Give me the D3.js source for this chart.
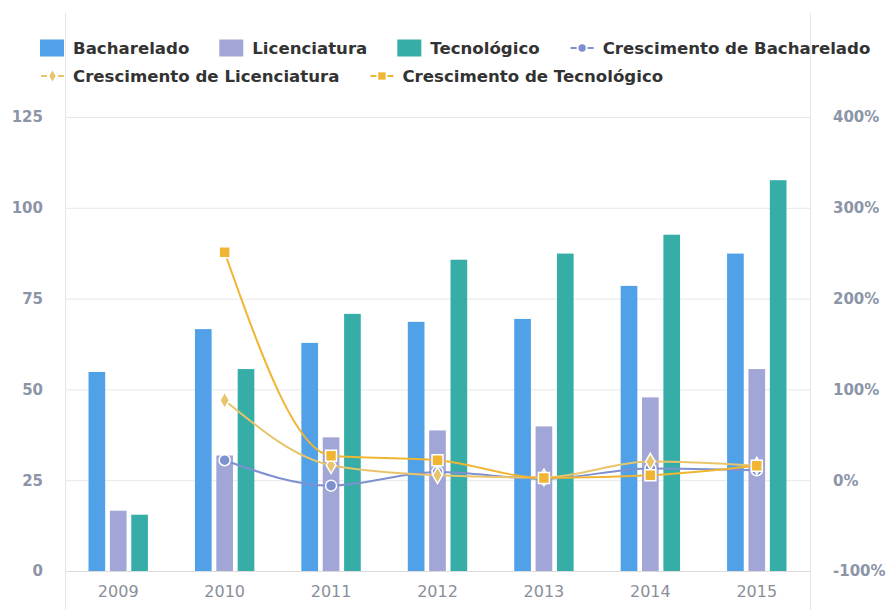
<!DOCTYPE html>
<html>
<head>
<meta charset="utf-8">
<script src="https://cdn.jsdelivr.net/npm/d3@7"></script>
<style>
  html, body { margin: 0; padding: 0; background: #fff; }
  svg { display: block; font-family: "DejaVu Sans", sans-serif; }
</style>
</head>
<body>
<svg id="chart" width="891" height="610"></svg>
<script>
const years = ["2009", "2010", "2011", "2012", "2013", "2014", "2015"];
const bacharelado = [54.8, 66.6, 62.8, 68.6, 69.4, 78.5, 87.4];
const licenciatura = [16.6, 31.8, 36.8, 38.7, 39.8, 47.8, 55.6];
const tecnologico = [15.5, 55.6, 70.8, 85.7, 87.4, 92.6, 107.6];
const crescBacharelado = [null, 22, -6, 9, 1.5, 13, 11];
const crescLicenciatura = [null, 88, 16.5, 5.5, 3, 20.5, 16];
const crescTecnologico = [null, 251, 27, 22, 2.5, 5.5, 16];
const leftTicks = [0, 25, 50, 75, 100, 125];
const rightTicks = [-100, 0, 100, 200, 300, 400];

const barSeries = [
  { name: "Bacharelado", values: bacharelado, color: "#51a1e8" },
  { name: "Licenciatura", values: licenciatura, color: "#a1a6d6" },
  { name: "Tecnológico", values: tecnologico, color: "#36aea7" }
];
const lineSeries = [
  { name: "Crescimento de Bacharelado", values: crescBacharelado, color: "#7d90cf", symbol: d3.symbolCircle, size: 95 },
  { name: "Crescimento de Licenciatura", values: crescLicenciatura, color: "#e8c56c", symbol: d3.symbolDiamond, size: 80 },
  { name: "Crescimento de Tecnológico", values: crescTecnologico, color: "#f0b633", symbol: d3.symbolSquare, size: 120 }
];

const svg = d3.select("#chart");
const L = 65, R = 810, B = 571, T = 117;

const x = d3.scaleBand().domain(years).range([L, R]);
const xi = d3.scaleBand().domain(barSeries.map(s => s.name)).range([-29.7, 29.7]).paddingInner(0.22);
const y = d3.scaleLinear().domain([0, 125]).range([B, T]);
const y2 = d3.scaleLinear().domain([-100, 400]).range([B, T]);

// grid
svg.append("g").selectAll("line").data(leftTicks.filter(t => t !== 0)).join("line")
  .attr("x1", L).attr("x2", R).attr("y1", d => y(d) + 0.5).attr("y2", d => y(d) + 0.5)
  .attr("stroke", "#e8e8e8").attr("stroke-width", 1);

// vertical frame lines
svg.append("line").attr("x1", L + 0.5).attr("x2", L + 0.5).attr("y1", 13).attr("y2", 610).attr("stroke", "#e6e6e6");
svg.append("line").attr("x1", R + 0.5).attr("x2", R + 0.5).attr("y1", 13).attr("y2", 610).attr("stroke", "#e6e6e6");

// bars
barSeries.forEach(s => {
  svg.append("g").selectAll("rect").data(s.values).join("rect")
    .attr("x", (d, i) => x(years[i]) + x.bandwidth() / 2 + xi(s.name))
    .attr("width", xi.bandwidth())
    .attr("y", d => y(d))
    .attr("height", d => y(0) - y(d))
    .attr("fill", s.color);
});

// x axis line
svg.append("line").attr("x1", L).attr("x2", R).attr("y1", B + 0.5).attr("y2", B + 0.5).attr("stroke", "#dcdcdc");

// axes
const xAxis = svg.append("g").attr("transform", `translate(0,${B})`)
  .call(d3.axisBottom(x).tickSize(0).tickPadding(15));
xAxis.select(".domain").remove();
xAxis.selectAll("text").attr("font-size", 16).attr("fill", "#8a8f99")
  .attr("font-family", "DejaVu Sans, sans-serif");

const yAxis = svg.append("g").attr("transform", `translate(43,0)`)
  .call(d3.axisLeft(y).tickValues(leftTicks).tickSize(0).tickPadding(0));
yAxis.select(".domain").remove();
yAxis.selectAll("text").attr("font-size", 15).attr("font-weight", "bold").attr("fill", "#8c95a8")
  .attr("font-family", "DejaVu Sans, sans-serif");

const y2Axis = svg.append("g").attr("transform", `translate(833,0)`)
  .call(d3.axisRight(y2).tickValues(rightTicks).tickFormat(d => d + "%").tickSize(0).tickPadding(0));
y2Axis.select(".domain").remove();
y2Axis.selectAll("text").attr("font-size", 15).attr("font-weight", "bold").attr("fill", "#8c95a8")
  .attr("font-family", "DejaVu Sans, sans-serif");

// lines
const cx = i => x(years[i]) + x.bandwidth() / 2;
lineSeries.forEach(s => {
  const pts = s.values.map((v, i) => ({ v, i })).filter(p => p.v !== null);
  const line = d3.line().x(p => cx(p.i)).y(p => y2(p.v)).curve(d3.curveMonotoneX);
  svg.append("path").attr("d", line(pts)).attr("fill", "none")
    .attr("stroke", s.color).attr("stroke-width", 2);
});
lineSeries.forEach(s => {
  const pts = s.values.map((v, i) => ({ v, i })).filter(p => p.v !== null);
  svg.append("g").selectAll("path").data(pts).join("path")
    .attr("transform", p => `translate(${cx(p.i)},${y2(p.v)})`)
    .attr("d", d3.symbol().type(s.symbol).size(s.size))
    .attr("fill", s.color).attr("stroke", "#fff").attr("stroke-width", 1.5);
});

// legend
const allItems = [...barSeries.map(s => ({ ...s, type: "bar" })), ...lineSeries.map(s => ({ ...s, type: "line" }))];
const rows = [allItems.slice(0, 4), allItems.slice(4)];
rows.forEach((row, r) => {
  let lx = 40;
  const cy = 48 + r * 28;
  row.forEach(it => {
    const g = svg.append("g").attr("transform", `translate(${lx},${cy})`);
    if (it.type === "bar") {
      g.append("rect").attr("x", 0).attr("y", -8.5).attr("width", 24).attr("height", 17).attr("fill", it.color);
    } else {
      g.append("line").attr("x1", 1).attr("x2", 7).attr("y1", 0).attr("y2", 0).attr("stroke", it.color).attr("stroke-width", 2);
      g.append("line").attr("x1", 18).attr("x2", 24).attr("y1", 0).attr("y2", 0).attr("stroke", it.color).attr("stroke-width", 2);
      g.append("path").attr("transform", "translate(12.5,0)")
        .attr("d", d3.symbol().type(it.symbol).size(it.size * 0.45))
        .attr("fill", it.color);
    }
    const t = g.append("text").attr("x", 33).attr("y", 0).attr("dy", "0.36em")
      .attr("font-size", 16.6).attr("font-weight", "bold").attr("fill", "#333")
      .text(it.name);
    lx += 33 + t.node().getComputedTextLength() + 30;
  });
});
</script>
</body>
</html>
